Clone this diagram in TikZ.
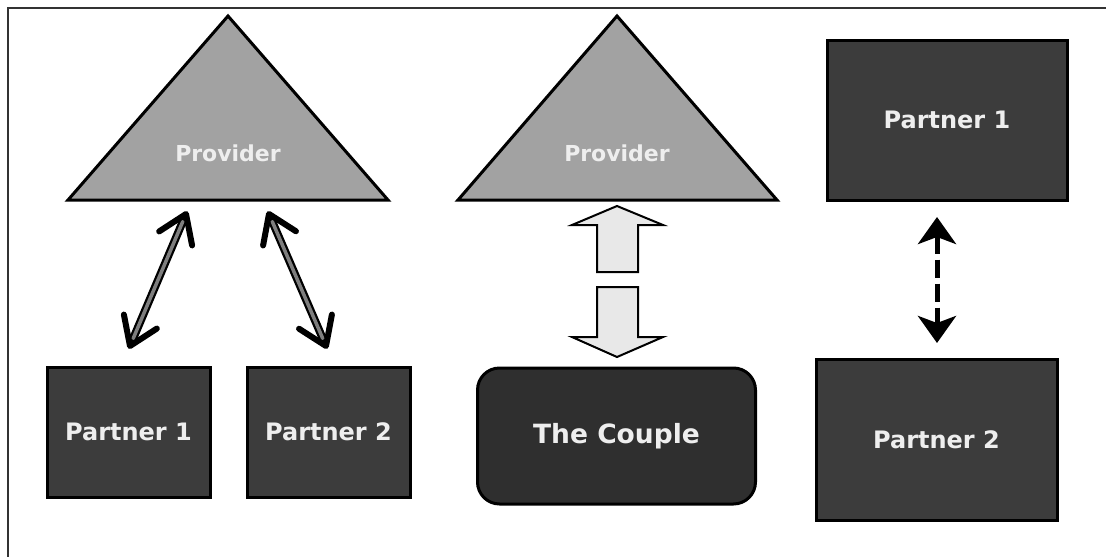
\documentclass[tikz,border=0pt]{standalone}
\usepackage{fontspec}
\setmainfont{DejaVu Sans}
\usetikzlibrary{arrows.meta,calc}
\definecolor{trigray}{HTML}{A2A2A2}
\definecolor{boxgray}{HTML}{3C3C3C}
\definecolor{couplegray}{HTML}{2F2F2F}
\definecolor{txtlight}{HTML}{EEEEEE}
\definecolor{provtxt}{HTML}{EEEEEE}
\definecolor{blockfill}{HTML}{E8E8E8}
\definecolor{shaftgray}{HTML}{7E7E7E}
\definecolor{framegray}{HTML}{333333}
\tikzset{
  trishape/.style={draw=black, line width=3pt, fill=trigray, line join=miter},
  provlabel/.style={text=provtxt, font=\bfseries\fontsize{22}{25}\selectfont, inner sep=0pt},
  partnerbox/.style={draw=black, line width=3pt, fill=boxgray, text=txtlight,
    font=\bfseries\fontsize{24}{27}\selectfont, inner sep=0pt},
  couplebox/.style={draw=black, line width=3pt, fill=couplegray, text=txtlight,
    rounded corners=22pt, font=\bfseries\fontsize{26.5}{29}\selectfont, inner sep=0pt},
  shaftout/.style={draw=black, line width=8pt, shorten >=3pt, shorten <=3pt},
  shaftin/.style={draw=shaftgray, line width=3.5pt, shorten >=7pt, shorten <=7pt},
  barb/.style={draw=black, line width=6pt, line join=round, line cap=round},
  blockarrow/.style={draw=black, line width=2pt, fill=blockfill, line join=miter},
  dasharrow/.style={draw=black, line width=5pt, dash pattern=on 18pt off 6pt,
    {Stealth[length=27pt,width=38pt,inset=7pt]}-{Stealth[length=27pt,width=38pt,inset=7pt]}}
}
\begin{document}
\begin{tikzpicture}[x=1pt,y=-1pt]
\useasboundingbox (0,0) rectangle (1106,557);
\fill[white] (0,0) rectangle (1106,557);
% frame
\draw[framegray, line width=2pt] (8,557) -- (8,8) -- (1106,8);

% triangles
\draw[trishape] (228,16) -- (388,200) -- (68,200) -- cycle;
\node[provlabel] (prov1) at (228,153) {Provider};
\draw[trishape] (617,16) -- (777,200) -- (458,200) -- cycle;
\node[provlabel] (prov2) at (617,153) {Provider};

% boxes
\node[partnerbox, minimum width=163pt, minimum height=130pt] (p1L) at (128.5,432) {Partner 1};
\node[partnerbox, minimum width=163pt, minimum height=130pt] (p2L) at (328.5,432) {Partner 2};
\node[couplebox, minimum width=278pt, minimum height=136pt] (couple) at (616.5,436) {The Couple};
\node[partnerbox, minimum width=240pt, minimum height=160pt] (p1R) at (947,120) {Partner 1};
\node[partnerbox, minimum width=241pt, minimum height=161pt] (p2R) at (936.5,440) {Partner 2};

% left arrows
\coordinate (a1t) at (186,214);
\coordinate (a1b) at (130,346);
\coordinate (a2t) at (269,214);
\coordinate (a2b) at (326,346);
\draw[shaftout] (a1b) -- (a1t);
\draw[shaftin] (a1b) -- (a1t);
\draw[shaftout] (a2b) -- (a2t);
\draw[shaftin] (a2b) -- (a2t);
\draw[barb] ($(a1t)!32pt!34:(a1b)$) -- (a1t) -- ($(a1t)!32pt!-34:(a1b)$);
\draw[barb] ($(a1b)!32pt!34:(a1t)$) -- (a1b) -- ($(a1b)!32pt!-34:(a1t)$);
\draw[barb] ($(a2t)!32pt!34:(a2b)$) -- (a2t) -- ($(a2t)!32pt!-34:(a2b)$);
\draw[barb] ($(a2b)!32pt!34:(a2t)$) -- (a2b) -- ($(a2b)!32pt!-34:(a2t)$);

% block arrows
\draw[blockarrow] (617,206) -- (663,225) -- (638,225) -- (638,272) -- (597,272) -- (597,225) -- (572,225) -- cycle;
\draw[blockarrow] (597,287) -- (638,287) -- (638,337) -- (663,337) -- (617,357) -- (572,337) -- (597,337) -- cycle;

% dashed arrow
\coordinate (d1) at (937,217);
\coordinate (d2) at (937,343);
\draw[dasharrow] (d1) -- (d2);
\end{tikzpicture}
\end{document}
